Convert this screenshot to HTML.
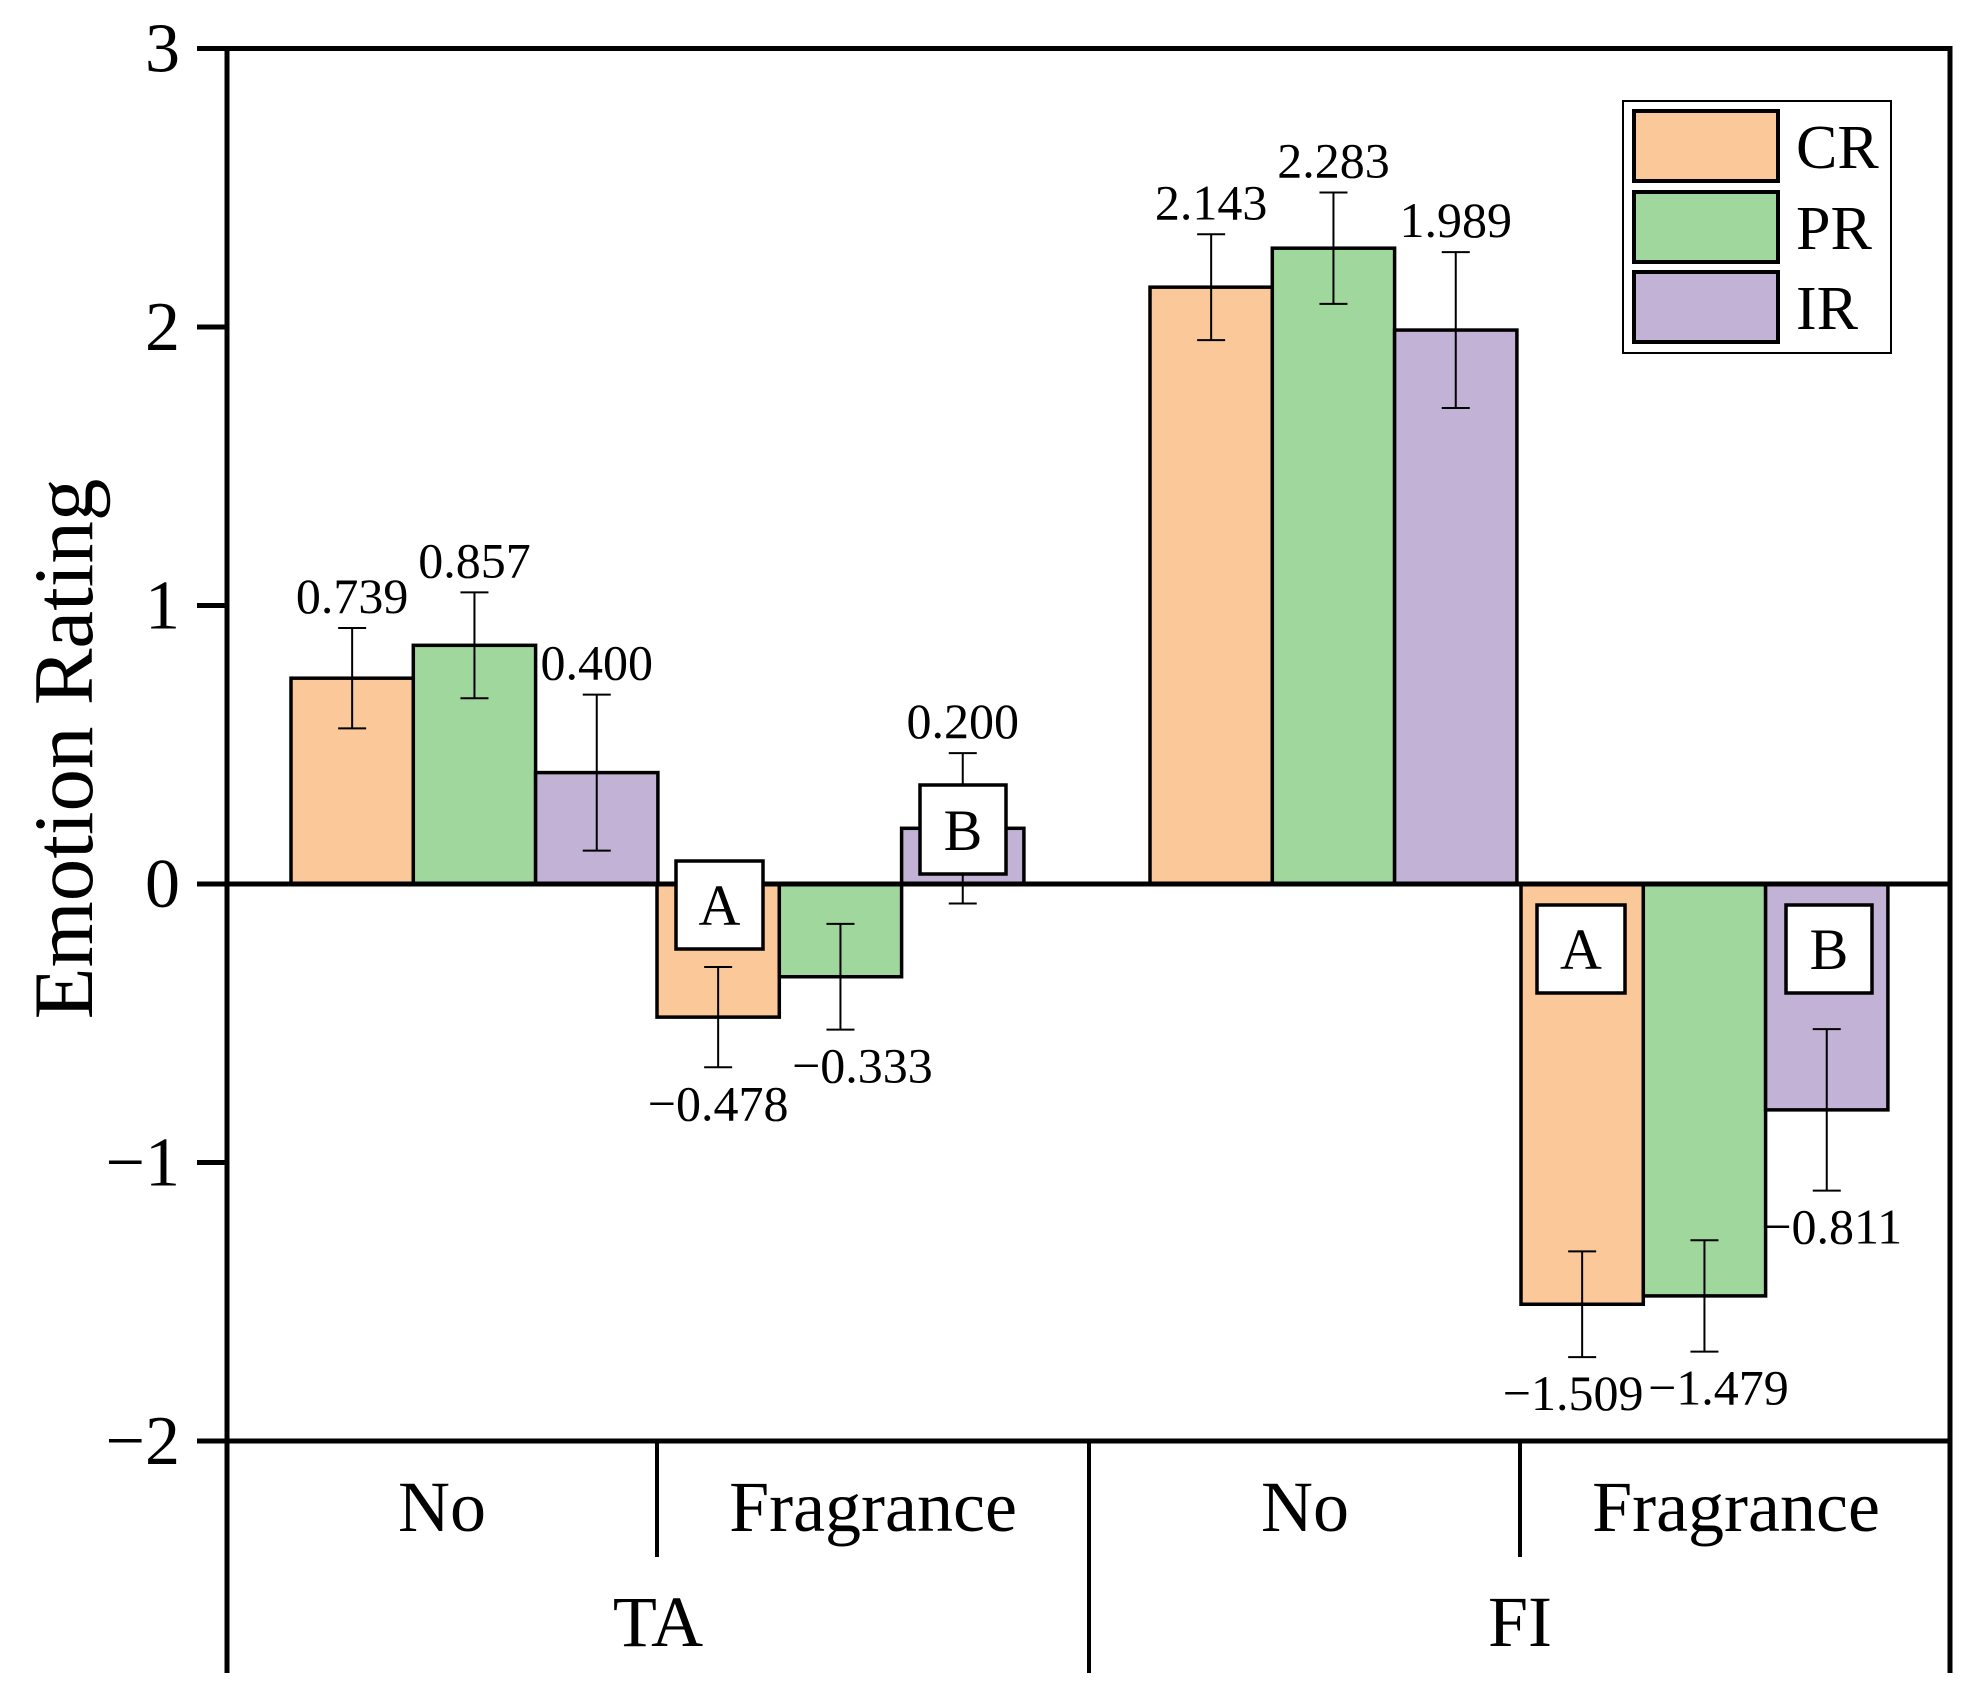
<!DOCTYPE html>
<html><head><meta charset="utf-8"><style>
html,body{margin:0;padding:0;background:#fff}
svg{display:block}
text{font-family:"Liberation Serif",serif;fill:#000}
</style></head><body>
<svg id="chart" width="1986" height="1707" viewBox="0 0 1986 1707" xmlns="http://www.w3.org/2000/svg">
<g id="plot"></g>
</svg>
<script>
const categories = ["TA-No","TA-Fragrance","FI-No","FI-Fragrance"];
const seriesNames = ["CR","PR","IR"];
const crValues = [0.739,-0.478,2.143,-1.509];
const prValues = [0.857,-0.333,2.283,-1.479];
const irValues = [0.400,0.200,1.989,-0.811];
const crErrors = [0.18,0.18,0.19,0.19];
const prErrors = [0.19,0.19,0.20,0.20];
const irErrors = [0.28,0.27,0.28,0.29];
const crLabels = ["0.739","\u22120.478","2.143","\u22121.509"];
const prLabels = ["0.857","\u22120.333","2.283","\u22121.479"];
const irLabels = ["0.400","0.200","1.989","\u22120.811"];
const yTicks = [-2,-1,0,1,2,3];
const yTickLabels = ["\u22122","\u22121","0","1","2","3"];

const NS="http://www.w3.org/2000/svg";
const g=document.getElementById('plot');
const colors=["#fbc999","#9fd79c","#c2b3d6"];
const X0=227,X1=1950,Y0=884,U=278.5;
const y=v=>Y0-v*U;
const groupStart=[291,657,1150,1521];
const bw=122.3;
function el(tag,attrs,parent){const e=document.createElementNS(NS,tag);for(const k in attrs)e.setAttribute(k,attrs[k]);(parent||g).appendChild(e);return e;}
function txt(s,x,yy,size,anchor){const t=el('text',{x:x,y:yy,'font-size':size,'text-anchor':anchor||'middle'});t.textContent=s;return t;}

const yMin=y(-2),yMax=y(3);
let a=el('line',{x1:X0,y1:yMax,x2:X0,y2:1673,stroke:'#000','stroke-width':5});


a=el('line',{x1:X1,y1:yMax,x2:X1,y2:1673,stroke:'#000','stroke-width':5});


a=el('line',{x1:X0-2.5,y1:yMax,x2:X1+2.5,y2:yMax,stroke:'#000','stroke-width':5});


a=el('line',{x1:X0-30,y1:yMin,x2:X1+2.5,y2:yMin,stroke:'#000','stroke-width':5});



yTicks.forEach((v,i)=>{
  const t=el('line',{x1:X0-30,y1:y(v),x2:X0,y2:y(v),stroke:'#000','stroke-width':5});
  
  
  const l=txt(yTickLabels[i],180,y(v)+23,70,'end');
  
  
});

const yt=txt("Emotion Rating",0,0,85,'middle');
yt.setAttribute('transform','translate(92,749) rotate(-90)');



const vals=[crValues,prValues,irValues],errs=[crErrors,prErrors,irErrors],labs=[crLabels,prLabels,irLabels];
categories.forEach((c,ci)=>{
  for(let s=0;s<3;s++){
    const v=vals[s][ci],x=groupStart[ci]+s*bw;
    const top=Math.min(y(v),Y0),h=Math.abs(y(v)-Y0);
    const r=el('rect',{x:x,y:top,width:bw,height:h,fill:colors[s],stroke:'#000','stroke-width':3.5});
    
    
  }
});
a=el('line',{x1:X0,y1:Y0,x2:X1,y2:Y0,stroke:'#000','stroke-width':5});



const lblDx=[[0,0,0],[0,22,0],[0,0,0],[-9,14,6]];
categories.forEach((c,ci)=>{
  for(let s=0;s<3;s++){
    const v=vals[s][ci],e=errs[s][ci],cx=groupStart[ci]+s*bw+bw/2;
    const eg=el('g',{});
    
    
    el('line',{x1:cx,y1:y(v+e),x2:cx,y2:y(v-e),stroke:'#000','stroke-width':2},eg);
    el('line',{x1:cx-14,y1:y(v+e),x2:cx+14,y2:y(v+e),stroke:'#000','stroke-width':2},eg);
    el('line',{x1:cx-14,y1:y(v-e),x2:cx+14,y2:y(v-e),stroke:'#000','stroke-width':2},eg);
    const ly=v>=0?y(v+e)-15:y(v-e)+53;
    const l=txt(labs[s][ci],cx+lblDx[ci][s],ly,50,'middle');
    
    
  }
});
</script>
<svg style="position:absolute;left:0;top:0" width="1986" height="1707" viewBox="0 0 1986 1707" xmlns="http://www.w3.org/2000/svg">
<g><rect x="676" y="861" width="87" height="88" fill="#fff" stroke="#000" stroke-width="3.5"/><text x="719.5" y="925" font-size="58" text-anchor="middle">A</text></g>
<g><rect x="920" y="785" width="86" height="89" fill="#fff" stroke="#000" stroke-width="3.5"/><text x="963" y="850" font-size="58" text-anchor="middle">B</text></g>
<g><rect x="1537" y="905" width="88" height="88" fill="#fff" stroke="#000" stroke-width="3.5"/><text x="1581" y="969" font-size="58" text-anchor="middle">A</text></g>
<g><rect x="1786" y="905" width="86" height="88" fill="#fff" stroke="#000" stroke-width="3.5"/><text x="1829" y="969" font-size="58" text-anchor="middle">B</text></g>
<g>
<rect x="1623" y="101" width="268" height="252" fill="#fff" stroke="#000" stroke-width="2"/>
<rect x="1634" y="111" width="144" height="70" fill="#fbc999" stroke="#000" stroke-width="4"/>
<rect x="1634" y="192" width="144" height="70" fill="#9fd79c" stroke="#000" stroke-width="4"/>
<rect x="1634" y="272" width="144" height="70" fill="#c2b3d6" stroke="#000" stroke-width="4"/>
<text x="1796" y="168" font-size="62">CR</text>
<text x="1796" y="249" font-size="62">PR</text>
<text x="1796" y="329" font-size="62">IR</text>
</g>
<g>
<line x1="657" y1="1442" x2="657" y2="1557" stroke="#000" stroke-width="4"/>
<line x1="1520" y1="1442" x2="1520" y2="1557" stroke="#000" stroke-width="4"/>
<line x1="1089" y1="1442" x2="1089" y2="1673" stroke="#000" stroke-width="4"/>
<text x="442" y="1531" font-size="72" text-anchor="middle">No</text>
<text x="873" y="1531" font-size="72" text-anchor="middle">Fragrance</text>
<text x="1305" y="1531" font-size="72" text-anchor="middle">No</text>
<text x="1736" y="1531" font-size="72" text-anchor="middle">Fragrance</text>
<text x="658" y="1646" font-size="72" text-anchor="middle">TA</text>
<text x="1520" y="1646" font-size="72" text-anchor="middle">FI</text>
</g>
</svg>
</body></html>
